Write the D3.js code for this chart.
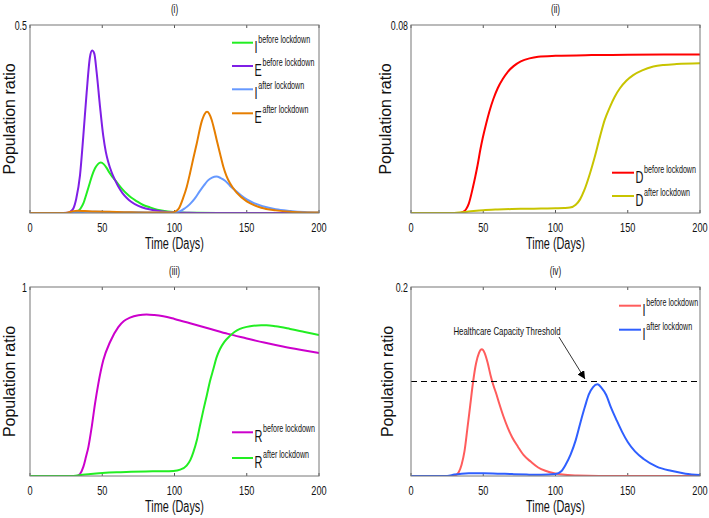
<!DOCTYPE html>
<html>
<head>
<meta charset="utf-8">
<script src="https://cdn.jsdelivr.net/npm/d3@7/dist/d3.min.js"></script>
<style>
  html, body { margin: 0; padding: 0; background: #fff; }
  svg { display: block; }
  text { font-family: "Liberation Sans", Arial, sans-serif; fill: #111; }
</style>
</head>
<body>
<svg id="chart" width="709" height="518"></svg>
<script>
// ---------------- DATA ----------------
const xTicks = [0, 50, 100, 150, 200];
const panelTitles = ["(i)", "(ii)", "(iii)", "(iv)"];
const yMaxLabels = ["0.5", "0.08", "1", "0.2"];
const yMax = [0.5, 0.08, 1, 0.2];
const xLabel = "Time (Days)";
const yLabel = "Population ratio";
const thresholdValue = 0.1;
const thresholdText = "Healthcare Capacity Threshold";

const E_before = [[0,0],[20,0],[26,0.001],[28,0.004],[30,0.012],[32,0.038],[34.6,0.10],[36.9,0.205],[39.2,0.32],[41.5,0.415],[43,0.432],[44.5,0.424],[46.1,0.375],[48.4,0.285],[50.7,0.205],[52.5,0.162],[54.2,0.135],[56.5,0.108],[58.8,0.088],[61,0.071],[64,0.053],[67,0.04],[70,0.03],[75,0.019],[80,0.012],[85,0.008],[90,0.005],[95,0.003],[100,0.0015],[110,0.0005],[120,0],[200,0]];
const I_before = [[0,0],[28,0],[31,0.001],[33,0.004],[35,0.012],[37,0.026],[39,0.05],[41,0.075],[43,0.1],[45,0.119],[47,0.13],[49,0.134],[51,0.13],[53,0.12],[55,0.107],[57,0.096],[59,0.087],[61,0.077],[64,0.063],[67,0.051],[70,0.041],[74,0.031],[78,0.022],[83,0.015],[88,0.009],[93,0.0055],[99,0.003],[105,0.0015],[115,0.0005],[130,0],[200,0]];
const I_after = [[0,0],[25,0],[30,0.0015],[35,0.0025],[40,0.003],[50,0.003],[60,0.0025],[70,0.002],[80,0.0015],[90,0.0012],[100,0.002],[104,0.005],[107,0.012],[110.5,0.023],[114,0.038],[117.5,0.058],[120.5,0.074],[123,0.086],[126,0.094],[129,0.097],[132,0.093],[135,0.086],[138.5,0.072],[142,0.06],[146,0.047],[150,0.036],[155,0.026],[161,0.018],[170,0.01],[180,0.0055],[190,0.0025],[200,0.001]];
const E_after = [[0,0],[24,0],[27,0.002],[30,0.005],[33,0.006],[38,0.005],[45,0.004],[55,0.003],[70,0.002],[85,0.001],[97,0.001],[100,0.003],[103,0.012],[106,0.04],[108.5,0.07],[110.7,0.105],[113,0.145],[115.4,0.185],[118.8,0.243],[121,0.264],[122.5,0.269],[124,0.264],[125.7,0.248],[127.5,0.222],[129.2,0.194],[131.5,0.158],[133.8,0.123],[136,0.098],[138.4,0.079],[143,0.054],[150,0.031],[155,0.021],[160,0.014],[170,0.007],[180,0.003],[190,0.0015],[200,0.001]];
const D_before = [[0,0],[34,0],[36,0.0005],[38,0.0015],[40,0.004],[42.7,0.0105],[44.5,0.0155],[46.1,0.0204],[48,0.027],[49.6,0.0318],[52,0.038],[54.2,0.0431],[57,0.0485],[60,0.0531],[63.5,0.057],[67,0.0601],[71,0.0625],[76,0.0645],[82,0.0658],[88,0.0665],[100,0.0669],[125,0.0672],[150,0.0673],[200,0.0675]];
const D_after = [[0,0],[30,0],[35,0.0003],[40,0.0006],[50,0.0012],[60,0.0015],[70,0.0017],[80,0.0018],[90,0.0019],[100,0.002],[106,0.0021],[110,0.0023],[114,0.0035],[117,0.0058],[120,0.0098],[123.9,0.0169],[127,0.0235],[130.8,0.0325],[134,0.0395],[137.7,0.0452],[141,0.0495],[144.6,0.0531],[149,0.0563],[153.8,0.0587],[160,0.0607],[167.7,0.0623],[175,0.063],[183.9,0.0634],[200,0.0637]];
const R_before = [[0,0],[32,0],[34.5,0.01],[36.9,0.048],[38.7,0.1],[40.4,0.153],[42.7,0.259],[45,0.383],[47.3,0.489],[50.7,0.612],[55.4,0.709],[61.1,0.788],[65,0.82],[69.2,0.838],[75,0.851],[80.7,0.855],[86,0.852],[92.3,0.845],[100,0.831],[112,0.806],[125,0.778],[137,0.752],[150,0.728],[162,0.706],[175,0.685],[187,0.668],[200,0.651]];
const R_after = [[0,0],[28,0],[35,0.005],[42,0.011],[50,0.016],[60,0.02],[70,0.022],[80,0.024],[90,0.025],[99.2,0.027],[104,0.034],[108.4,0.055],[111,0.085],[113,0.125],[115.5,0.19],[117.6,0.266],[120,0.35],[122.3,0.425],[124.5,0.5],[126.9,0.566],[129,0.625],[131.5,0.672],[134.5,0.71],[138.4,0.742],[141.5,0.762],[145.3,0.778],[150,0.789],[154.5,0.795],[160,0.797],[163.7,0.797],[170,0.792],[180,0.778],[190,0.762],[200,0.746]];

// ---------------- LAYOUT ----------------
const svg = d3.select("#chart");
const SX = 0.68; // horizontal condensing of the text
const panels = [
  { x0: 30, x1: 319, y0: 25, y1: 213, ylabX: 15,
    series: [
      { data: I_before, color: "#22ee22", main: "I", sup: "before lockdown" },
      { data: E_before, color: "#7f1fe6", main: "E", sup: "before lockdown" },
      { data: I_after,  color: "#6699ff", main: "I", sup: "after lockdown" },
      { data: E_after,  color: "#e67e00", main: "E", sup: "after lockdown" } ],
    legend: { x1: 232, x2: 253, ys: [42.7, 66, 89.3, 113.3] } },
  { x0: 411, x1: 700, y0: 25, y1: 213, ylabX: 391,
    series: [
      { data: D_before, color: "#ff0000", main: "D", sup: "before lockdown" },
      { data: D_after,  color: "#c8c400", main: "D", sup: "after lockdown" } ],
    legend: { x1: 612, x2: 634, ys: [172.7, 196] } },
  { x0: 30, x1: 319, y0: 287, y1: 476, ylabX: 15,
    series: [
      { data: R_before, color: "#cc00cc", main: "R", sup: "before lockdown" },
      { data: R_after,  color: "#22ee22", main: "R", sup: "after lockdown" } ],
    legend: { x1: 232, x2: 253, ys: [432.3, 458] } },
  { x0: 411, x1: 700, y0: 287, y1: 476, ylabX: 393,
    series: [
      { data: I_before, color: "#ff5c5c", main: "I", sup: "before lockdown" },
      { data: I_after,  color: "#2f5fff", main: "I", sup: "after lockdown" } ],
    legend: { x1: 619, x2: 641, ys: [305.7, 329.7] },
    threshold: true }
];

function ntext(parent, x, y, str, size, anchor) {
  const g = parent.append("g").attr("transform", `translate(${x},${y}) scale(${SX},1)`);
  return g.append("text").attr("x", 0).attr("y", 0)
    .attr("font-size", size).attr("text-anchor", anchor || "start").text(str);
}

svg.append("defs").append("marker")
  .attr("id", "arrowhead").attr("viewBox", "0 0 10 10")
  .attr("refX", 10).attr("refY", 5)
  .attr("markerWidth", 8).attr("markerHeight", 8)
  .attr("markerUnits", "userSpaceOnUse")
  .attr("orient", "auto")
  .append("path").attr("d", "M0,0 L10,5 L0,10 Z").attr("fill", "#000");

panels.forEach((p, i) => {
  const x = d3.scaleLinear().domain([0, 200]).range([p.x0, p.x1]);
  const y = d3.scaleLinear().domain([0, yMax[i]]).range([p.y1, p.y0]);
  const g = svg.append("g");

  const cid = "clip" + i;
  svg.select("defs").append("clipPath").attr("id", cid)
    .append("rect").attr("x", p.x0).attr("y", p.y0 - 2)
    .attr("width", p.x1 - p.x0).attr("height", p.y1 - p.y0 + 2);

  xTicks.forEach(t => {
    g.append("line").attr("x1", x(t)).attr("x2", x(t))
      .attr("y1", p.y1).attr("y2", p.y1 - 3).attr("stroke", "#555").attr("stroke-width", 1);
    g.append("line").attr("x1", x(t)).attr("x2", x(t))
      .attr("y1", p.y0).attr("y2", p.y0 + 3).attr("stroke", "#555").attr("stroke-width", 1);
    ntext(g, x(t), p.y1 + 18.5, String(t), 13.5, "middle");
  });

  ntext(g, p.x0 - 3, p.y0 + 5, yMaxLabels[i], 13, "end");

  const line = d3.line().x(d => x(d[0])).y(d => y(d[1])).curve(d3.curveMonotoneX);
  const lg = g.append("g").attr("clip-path", `url(#${cid})`);
  p.series.forEach(s => {
    lg.append("path").attr("d", line(s.data)).attr("fill", "none")
      .attr("stroke", s.color).attr("stroke-width", 2).attr("stroke-linejoin", "round");
  });

  if (p.threshold) {
    g.append("line").attr("x1", p.x0).attr("x2", p.x1)
      .attr("y1", y(thresholdValue)).attr("y2", y(thresholdValue))
      .attr("stroke", "#000").attr("stroke-width", 1.2).attr("stroke-dasharray", "6,4");
    ntext(g, 507, 335, thresholdText, 11.5, "middle");
    g.append("line").attr("x1", 559).attr("y1", 337).attr("x2", 585).attr("y2", 379)
      .attr("stroke", "#000").attr("stroke-width", 0.8).attr("marker-end", "url(#arrowhead)");
  }

  g.append("rect").attr("x", p.x0).attr("y", p.y0)
    .attr("width", p.x1 - p.x0).attr("height", p.y1 - p.y0)
    .attr("fill", "none").attr("stroke", "#777").attr("stroke-width", 1);

  p.series.forEach((s, k) => {
    const ly = p.legend.ys[k];
    g.append("line").attr("x1", p.legend.x1).attr("x2", p.legend.x2)
      .attr("y1", ly).attr("y2", ly).attr("stroke", s.color).attr("stroke-width", 2);
    const tg = g.append("g").attr("transform", `translate(${p.legend.x2 + 1.5},${ly + 10}) scale(${SX},1)`);
    const t = tg.append("text").attr("x", 0).attr("y", 0);
    t.append("tspan").attr("font-size", 16).text(s.main);
    t.append("tspan").attr("font-size", 10.5).attr("dy", -10).attr("dx", 1).text(s.sup);
  });

  ntext(g, (p.x0 + p.x1) / 2, p.y1 + 35.5, xLabel, 16, "middle");
  g.append("text").attr("transform", `translate(${p.ylabX},${(p.y0 + p.y1) / 2}) rotate(-90)`)
    .attr("text-anchor", "middle").attr("font-size", 16).text(yLabel);
  ntext(g, (p.x0 + p.x1) / 2, p.y0 - 12, panelTitles[i], 12, "middle");
});
</script>
</body>
</html>
